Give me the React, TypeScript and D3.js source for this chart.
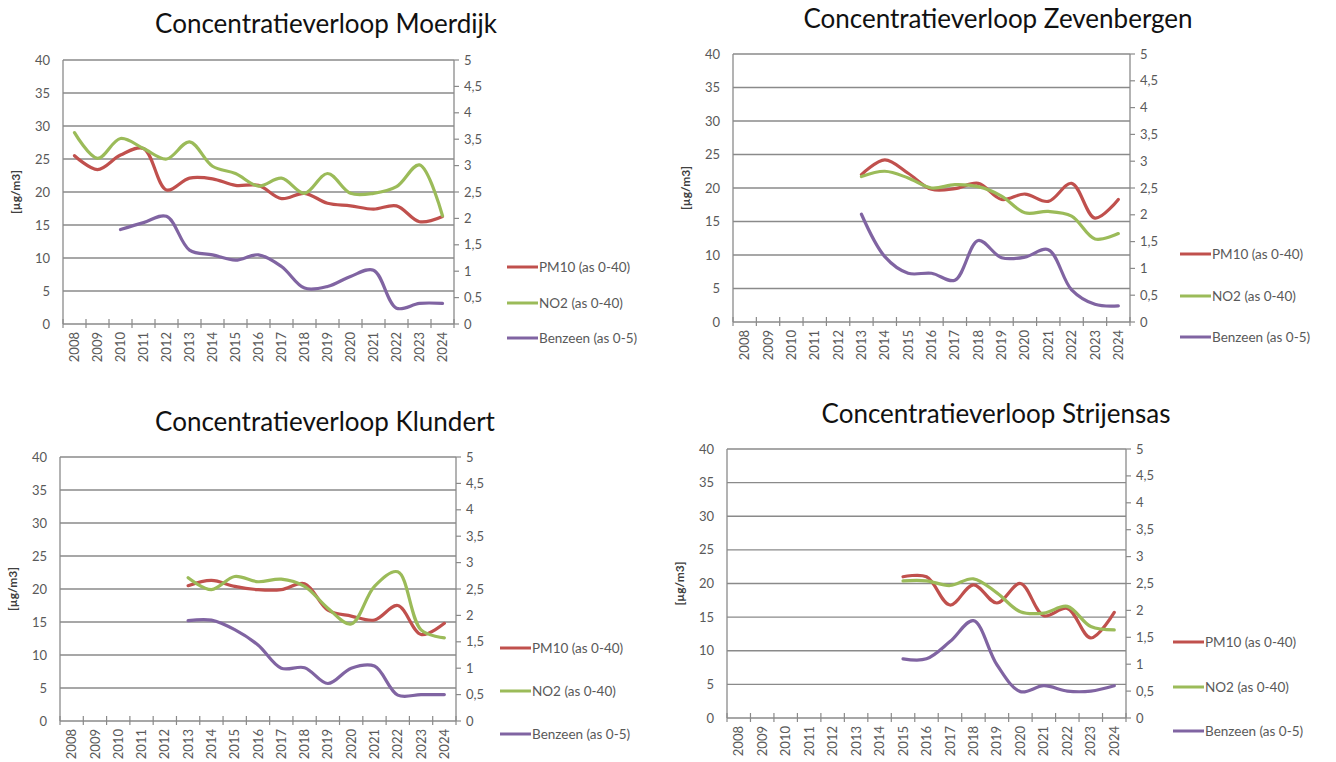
import * as d3 from "d3";

const years = ["2008","2009","2010","2011","2012","2013","2014","2015","2016","2017","2018","2019","2020","2021","2022","2023","2024"];
const leftTicks = [0, 5, 10, 15, 20, 25, 30, 35, 40];
const rightTicks = [0, 0.5, 1, 1.5, 2, 2.5, 3, 3.5, 4, 4.5, 5];

type V = number | null;
const _ = null;

// Moerdijk
const moerdijkPM10: V[] = [25.5, 23.4, 25.6, 26.6, 20.3, 22.1, 22, 21, 21, 19, 19.8, 18.3, 17.9, 17.4, 17.9, 15.5, 16.3];
const moerdijkNO2: V[] = [29, 25.1, 28.1, 26.6, 25, 27.6, 23.9, 22.8, 20.9, 22.1, 19.8, 22.8, 19.8, 19.8, 20.8, 24.1, 16.4];
const moerdijkBenzeen: V[] = [_, _, 1.79, 1.92, 2.04, 1.4, 1.31, 1.21, 1.31, 1.09, 0.68, 0.71, 0.9, 1.02, 0.3, 0.39, 0.39];

// Zevenbergen
const zevenbergenPM10: V[] = [_, _, _, _, _, 22, 24.2, 22.2, 19.8, 19.9, 20.7, 18.3, 19.1, 18, 20.7, 15.5, 18.3];
const zevenbergenNO2: V[] = [_, _, _, _, _, 21.7, 22.5, 21.5, 20, 20.5, 20.2, 18.8, 16.3, 16.5, 15.8, 12.4, 13.2];
const zevenbergenBenzeen: V[] = [_, _, _, _, _, 2.01, 1.22, 0.91, 0.91, 0.78, 1.52, 1.2, 1.21, 1.35, 0.6, 0.33, 0.3];

// Klundert
const klundertPM10: V[] = [_, _, _, _, _, 20.5, 21.3, 20.4, 19.9, 19.9, 20.8, 16.8, 15.9, 15.3, 17.5, 13.1, 14.8];
const klundertNO2: V[] = [_, _, _, _, _, 21.7, 19.9, 21.9, 21.1, 21.5, 20.4, 17.1, 14.7, 20.4, 22.6, 13.8, 12.6];
const klundertBenzeen: V[] = [_, _, _, _, _, 1.9, 1.91, 1.73, 1.44, 1.0, 1.01, 0.71, 1.0, 1.04, 0.49, 0.5, 0.5];

// Strijensas
const strijensasPM10: V[] = [_, _, _, _, _, _, _, 21, 21, 16.8, 19.8, 17.1, 20, 15.2, 16.3, 11.9, 15.7];
const strijensasNO2: V[] = [_, _, _, _, _, _, _, 20.4, 20.4, 19.7, 20.7, 18.6, 15.8, 15.6, 16.6, 13.6, 13.1];
const strijensasBenzeen: V[] = [_, _, _, _, _, _, _, 1.1, 1.1, 1.42, 1.81, 0.99, 0.49, 0.6, 0.5, 0.5, 0.6];

const legendLabels = ["PM10 (as 0-40)", "NO2 (as 0-40)", "Benzeen  (as 0-5)"];
const colors = ["#C0504D", "#9BBB59", "#8064A2"];

const FONT = "Lato, 'Open Sans', sans-serif";
const GRID = "#8a8a8a";
const TXT = "#595959";

interface PanelProps {
  title: string;
  titleX: number;
  titleY: number;
  x0: number;
  x1: number;
  y0: number;
  y1: number;
  legendX: number;
  legendYs: number[];
  pm10: V[];
  no2: V[];
  benzeen: V[];
}

function Panel(p: PanelProps) {
  const x = d3.scaleBand<string>().domain(years).range([p.x0, p.x1]);
  const cx = (y: string) => (x(y) ?? 0) + x.bandwidth() / 2;
  const yL = d3.scaleLinear().domain([0, 40]).range([p.y1, p.y0]);
  const yR = d3.scaleLinear().domain([0, 5]).range([p.y1, p.y0]);

  const mk = (scale: d3.ScaleLinear<number, number>) =>
    d3
      .line<V>()
      .defined((d) => d != null)
      .x((_d, i) => cx(years[i]))
      .y((d) => scale(d as number))
      .curve(d3.curveCatmullRom.alpha(0.5));

  const paths = [mk(yL)(p.pm10), mk(yL)(p.no2), mk(yR)(p.benzeen)];
  const bounds = years.map((y) => x(y) ?? 0).concat([p.x1]);

  return (
    <g>
      <text x={p.titleX} y={p.titleY} textAnchor="middle" fontSize={26} fill="#111" fontFamily={FONT}>
        {p.title}
      </text>
      {leftTicks.map((t) => (
        <g key={"g" + t}>
          <line x1={p.x0} x2={p.x1} y1={yL(t)} y2={yL(t)} stroke={GRID} strokeWidth={1.3} />
          <text x={p.x0 - 13} y={yL(t)} dy="0.35em" textAnchor="end" fontSize={13} fill={TXT} fontFamily={FONT}>
            {t}
          </text>
        </g>
      ))}
      <line x1={p.x0} x2={p.x0} y1={p.y0} y2={p.y1} stroke={GRID} strokeWidth={1.3} />
      <line x1={p.x1} x2={p.x1} y1={p.y0} y2={p.y1} stroke={GRID} strokeWidth={1.3} />
      {rightTicks.map((t) => (
        <g key={"r" + t}>
          <line x1={p.x1} x2={p.x1 + 5} y1={yR(t)} y2={yR(t)} stroke={GRID} strokeWidth={1.2} />
          <text x={p.x1 + 10} y={yR(t)} dy="0.35em" fontSize={13} fill={TXT} fontFamily={FONT}>
            {String(t).replace(".", ",")}
          </text>
        </g>
      ))}
      {bounds.map((b, i) => (
        <line key={"b" + i} x1={b} x2={b} y1={p.y1 - 5} y2={p.y1 + 4} stroke={GRID} strokeWidth={1.2} />
      ))}
      {years.map((y) => (
        <text
          key={"x" + y}
          transform={`translate(${cx(y)},${p.y1 + 8}) rotate(-90)`}
          dy="0.35em"
          textAnchor="end"
          fontSize={13}
          fill={TXT}
          fontFamily={FONT}
        >
          {y}
        </text>
      ))}
      <text
        transform={`translate(${p.x0 - 43},${(p.y0 + p.y1) / 2}) rotate(-90)`}
        textAnchor="middle"
        fontSize={12}
        fontWeight="bold"
        fill="#404040"
        fontFamily={FONT}
      >
        [µg/m3]
      </text>
      {paths.map((d, i) => (
        <path key={"p" + i} d={d ?? ""} fill="none" stroke={colors[i]} strokeWidth={3.2} strokeLinejoin="round" strokeLinecap="round" />
      ))}
      {legendLabels.map((l, i) => (
        <g key={"l" + i}>
          <line x1={p.legendX} x2={p.legendX + 31} y1={p.legendYs[i]} y2={p.legendYs[i]} stroke={colors[i]} strokeWidth={3} />
          <text x={p.legendX + 32} y={p.legendYs[i]} dy="0.35em" fontSize={13.5} fill={TXT} fontFamily={FONT}>
            {l}
          </text>
        </g>
      ))}
    </g>
  );
}

export default function App() {
  return (
    <svg width={1336} height={762} style={{ position: "absolute", left: 0, top: 0, background: "#fff" }}>
      <rect width={1336} height={762} fill="#fff" />
      <Panel title="Concentratieverloop Moerdijk" titleX={326} titleY={33} x0={63} x1={454} y0={60} y1={324}
        legendX={507} legendYs={[267, 303, 338]} pm10={moerdijkPM10} no2={moerdijkNO2} benzeen={moerdijkBenzeen} />
      <Panel title="Concentratieverloop Zevenbergen" titleX={998} titleY={28} x0={733} x1={1130} y0={54} y1={322}
        legendX={1180} legendYs={[254, 296, 337]} pm10={zevenbergenPM10} no2={zevenbergenNO2} benzeen={zevenbergenBenzeen} />
      <Panel title="Concentratieverloop Klundert" titleX={325} titleY={431} x0={60} x1={456} y0={457} y1={721}
        legendX={500} legendYs={[648, 691, 734]} pm10={klundertPM10} no2={klundertNO2} benzeen={klundertBenzeen} />
      <Panel title="Concentratieverloop Strijensas" titleX={996} titleY={423} x0={727} x1={1126} y0={449} y1={718}
        legendX={1173} legendYs={[642, 687, 731]} pm10={strijensasPM10} no2={strijensasNO2} benzeen={strijensasBenzeen} />
    </svg>
  );
}
